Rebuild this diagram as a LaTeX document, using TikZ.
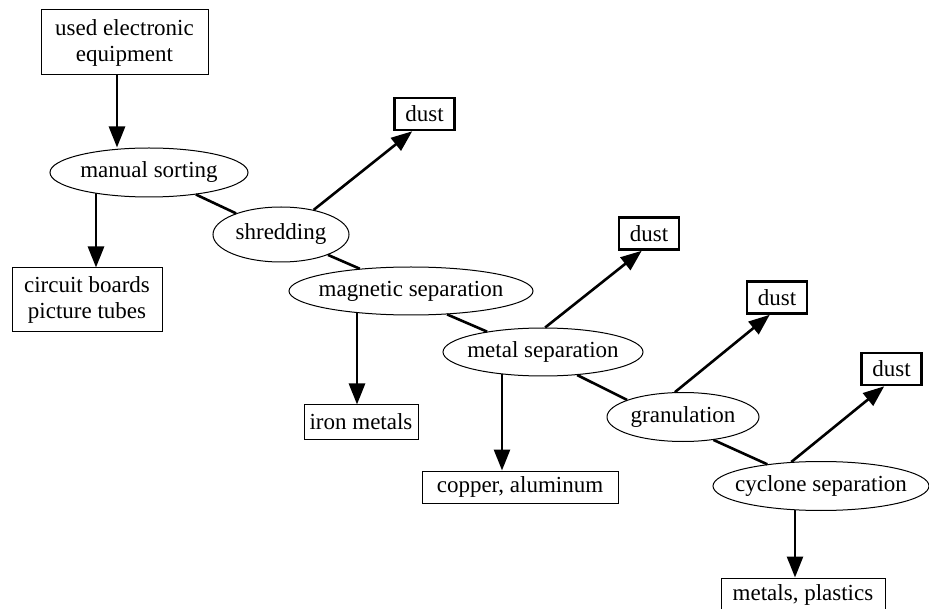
\documentclass[tikz,border=0pt]{standalone}
\usepackage{fontspec}
\setmainfont{Liberation Serif}
\usetikzlibrary{arrows.meta,shapes.geometric,backgrounds}
\tikzset{
  proc/.style={ellipse, draw, line width=1pt, fill=white, inner sep=0pt},
  outbox/.style={rectangle, draw, line width=1pt, fill=white, inner sep=0pt, align=center},
  dustbox/.style={rectangle, draw, line width=2.6pt, fill=white, inner sep=0pt, minimum width=60pt, minimum height=32pt},
  arr/.style={line width=2.6pt, -{Triangle[length=21pt,width=16pt]}},
  conn/.style={line width=2.6pt},
}
\begin{document}
\begin{tikzpicture}[x=1pt,y=-1pt,font=\fontsize{23}{26}\selectfont]
\useasboundingbox (0,0) rectangle (929,609);
% boxes
\node[outbox, minimum width=167pt, minimum height=65pt] (used) at (124.5,42.5) {used electronic\\equipment};
\node[outbox, minimum width=150pt, minimum height=64pt] (circuit) at (87,300) {circuit boards\\picture tubes};
\node[outbox, minimum width=114pt, minimum height=34pt] (iron) at (361,422) {iron metals};
\node[outbox, minimum width=196pt, minimum height=32pt] (copper) at (520,487) {copper, aluminum};
\node[outbox, minimum width=164pt, minimum height=34pt] (metals) at (803,595) {metals, plastics};
\node[dustbox] (dust1) at (424.5,114) {dust};
\node[dustbox] (dust2) at (649,233.5) {dust};
\node[dustbox] (dust3) at (777,297.5) {dust};
\node[dustbox] (dust4) at (891.5,369) {dust};
% process ellipses
\node[proc, minimum width=198pt, minimum height=49pt] (manual) at (149,172.5) {\makebox[0pt]{manual sorting}};
\node[proc, minimum width=136pt, minimum height=55pt] (shred) at (281,234.5) {\makebox[0pt]{shredding}};
\node[proc, minimum width=244pt, minimum height=48pt] (mag) at (411,291) {\makebox[0pt]{magnetic separation}};
\node[proc, minimum width=200pt, minimum height=48pt] (metal) at (543,352) {\makebox[0pt]{metal separation}};
\node[proc, minimum width=152pt, minimum height=49pt] (gran) at (683,417) {\makebox[0pt]{granulation}};
\node[proc, minimum width=216pt, minimum height=49pt] (cyc) at (821,486) {\makebox[0pt]{cyclone separation}};
% connectors
\begin{scope}[on background layer]
\draw[arr] ([xshift=-7.5pt]used.south) -- ([xshift=-32pt]manual.north);
\draw[arr] ([xshift=-53pt]manual.center) -- ([xshift=9pt]circuit.north);
\draw[arr] ([xshift=-54pt]mag.center) -- ([xshift=-4pt]iron.north);
\draw[arr] ([xshift=-41pt]metal.center) -- ([xshift=-18pt]copper.north);
\draw[arr] ([xshift=-26pt]cyc.center) -- ([xshift=-8pt]metals.north);
\end{scope}
\draw[conn] (manual) -- (shred);
\draw[conn] (shred) -- (mag);
\draw[conn] (mag.-33) -- (metal.160);
\draw[conn] (metal.-34) -- (gran.163);
\draw[conn] (gran.-37) -- (cyc.158);
\draw[arr] (shred.37) -- ([xshift=19pt]dust1.south west);
\draw[arr] (metal.85) -- ([xshift=24pt]dust2.south west);
\draw[arr] (gran.108) -- ([xshift=24pt]dust3.south west);
\draw[arr] (cyc.141) -- ([xshift=24pt]dust4.south west);
\end{tikzpicture}
\end{document}
